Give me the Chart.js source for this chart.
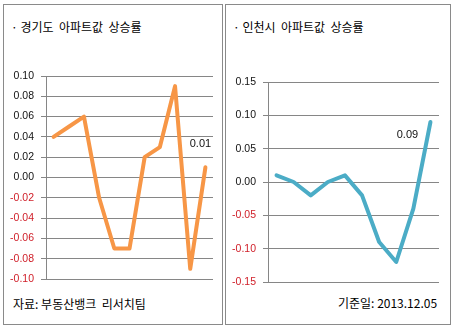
<!DOCTYPE html>
<html>
<head>
<meta charset="utf-8">
<script src="https://cdn.jsdelivr.net/npm/chart.js@4"></script>
<style>
  body { margin: 0; background: #fff; width: 453px; height: 328px; overflow: hidden; position: relative; }
  .panel { position: absolute; border: 1px solid #8a8a8a; box-sizing: border-box; }
  .txt { position: absolute; font-family: "Noto Sans CJK KR", sans-serif; font-size: 12px; color: #000; white-space: pre; line-height: 14px; }
  canvas { position: absolute; left: 0; top: 0; }
</style>
</head>
<body>
<div class="panel" style="left:3px;top:4px;width:220px;height:321px;"></div>
<div class="panel" style="left:225px;top:4px;width:226px;height:321px;"></div>

<div class="txt" style="left:11px;top:20px;">· 경기도  아파트값  상승률</div>
<div class="txt" style="left:233px;top:20px;">· 인천시  아파트값  상승률</div>
<div class="txt" style="left:13px;top:297px;">자료: 부동산뱅크  리서치팀</div>
<div class="txt" style="left:338px;top:296px;">기준일: 2013.12.05</div>

<div style="position:absolute;left:0;top:0;width:453px;height:328px;"><canvas id="gyeonggi"></canvas></div>
<div style="position:absolute;left:0;top:0;width:453px;height:328px;"><canvas id="incheon"></canvas></div>

<script>
// 경기도 (11 points)
const gyeonggiLabels = ['1', '2', '3', '4', '5', '6', '7', '8', '9', '10', '11'];
const gyeonggiValues = [0.04, 0.05, 0.06, -0.02, -0.07, -0.07, 0.02, 0.03, 0.09, -0.09, 0.01];
const gyeonggiTicks = [-0.10, -0.08, -0.06, -0.04, -0.02, 0.00, 0.02, 0.04, 0.06, 0.08, 0.10];

// 인천시 (10 points)
const incheonLabels = ['1', '2', '3', '4', '5', '6', '7', '8', '9', '10'];
const incheonValues = [0.01, 0.00, -0.02, 0.00, 0.01, -0.02, -0.09, -0.12, -0.04, 0.09];
const incheonTicks = [-0.15, -0.10, -0.05, 0.00, 0.05, 0.10, 0.15];

// draws the value of the last point, like the excel data label
const lastLabel = {
    id: 'lastLabel',
    afterDatasetsDraw(chart, args, opts) {
        const meta = chart.getDatasetMeta(0);
        const pt = meta.data[meta.data.length - 1];
        const data = chart.data.datasets[0].data;
        const ctx = chart.ctx;
        ctx.save();
        ctx.font = '11px "Liberation Sans", Arial, sans-serif';
        ctx.fillStyle = '#111';
        ctx.textAlign = 'center';
        ctx.textBaseline = 'middle';
        ctx.fillText(data[data.length - 1].toFixed(2), pt.x + opts.dx, pt.y + opts.dy);
        ctx.restore();
    }
};

function makeChart(id, labels, values, ticks, color, area, decimals, labelOffset) {
    const ctx = document.getElementById(id).getContext('2d');
    const yWidth = 40;
    return new Chart(ctx, {
        type: 'line',
        data: {
            labels: labels,
            datasets: [{
                data: values,
                borderColor: color,
                borderWidth: 4,
                borderJoinStyle: 'round',
                borderCapStyle: 'round',
                pointRadius: 0,
                tension: 0,
                fill: false
            }]
        },
        options: {
            responsive: true,
            maintainAspectRatio: false,
            animation: false,
            events: [],
            layout: {
                padding: {
                    left: area.left - yWidth,
                    top: area.top,
                    right: 453 - area.right,
                    bottom: 328 - area.bottom
                }
            },
            plugins: {
                legend: { display: false },
                tooltip: { enabled: false },
                lastLabel: labelOffset
            },
            scales: {
                x: {
                    display: false,
                    offset: true
                },
                y: {
                    min: ticks[0],
                    max: ticks[ticks.length - 1],
                    afterFit: scale => { scale.width = yWidth; },
                    afterBuildTicks: scale => { scale.ticks = ticks.map(v => ({ value: v })); },
                    border: { display: true, color: '#868686', width: 1 },
                    grid: { color: '#868686', lineWidth: 1, tickLength: 5 },
                    ticks: {
                        padding: 7,
                        font: { family: '"Liberation Sans", Arial, sans-serif', size: 10.5 },
                        color: c => c.tick.value < 0 ? '#d0202a' : '#111',
                        callback: v => v.toFixed(decimals)
                    }
                }
            }
        },
        plugins: [lastLabel]
    });
}

makeChart('gyeonggi', gyeonggiLabels, gyeonggiValues, gyeonggiTicks, '#f79646',
    { left: 46, top: 76, right: 213, bottom: 279 }, 2, { dx: -5, dy: -23 });
makeChart('incheon', incheonLabels, incheonValues, incheonTicks, '#4bacc6',
    { left: 268, top: 82, right: 439, bottom: 282 }, 2, { dx: -23, dy: 13 });
</script>
</body>
</html>
